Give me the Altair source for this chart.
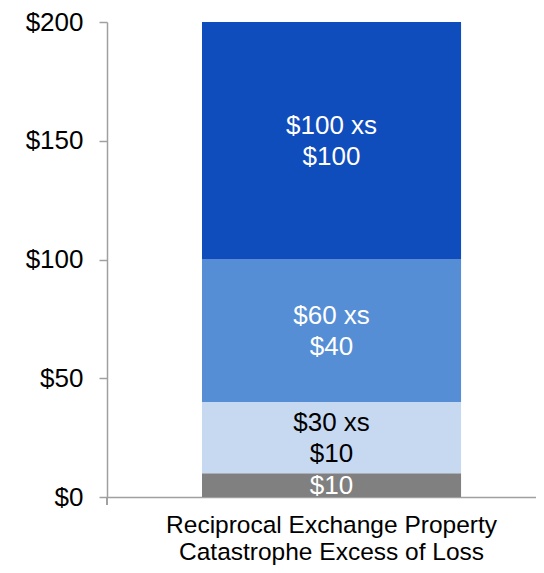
import altair as alt
import pandas as pd

# ---- data ----
program = "Reciprocal Exchange Property|Catastrophe Excess of Loss"
layer_names = ["Retention", "Layer 1", "Layer 2", "Layer 3"]
attachments = [0, 10, 40, 100]
limits = [10, 30, 60, 100]
layer_labels = ["$10", "$30 xs\n$10", "$60 xs\n$40", "$100 xs\n$100"]
y_ticks = [0, 50, 100, 150, 200]

bar_colors = ["#808080", "#C6D9F1", "#558ED5", "#0F4CBC"]
text_colors = ["#FFFFFF", "#000000", "#FFFFFF", "#FFFFFF"]

df = pd.DataFrame({
    "program": [program] * len(layer_names),
    "layer": layer_names,
    "attach": attachments,
    "limit": limits,
    "label": layer_labels,
})

FONT = "Liberation Sans"
AXIS_GRAY = "#A0A0A0"

x_enc = alt.X(
    "program:N",
    title=None,
    scale=alt.Scale(paddingInner=0, paddingOuter=0.328, align=0.559),
    axis=alt.Axis(
        labelAngle=0,
        labelExpr="split(datum.label, '|')",
        labelFont=FONT,
        labelFontSize=24.5,
        labelColor="#000000",
        labelLineHeight=27,
        labelPadding=16,
        labelBaseline="top",
        labelLimit=0,
        ticks=False,
        domainColor=AXIS_GRAY,
        domainWidth=1.5,
    ),
)

base = alt.Chart(df).transform_calculate(
    top="datum.attach + datum.limit",
    mid="datum.attach + datum.limit / 2",
    nlines="length(split(datum.label, '\\n'))",
)

bars = base.mark_bar(stroke=None).encode(
    x=x_enc,
    y=alt.Y(
        "attach:Q",
        title=None,
        scale=alt.Scale(domain=[0, 200], nice=False),
        axis=alt.Axis(
            values=y_ticks,
            labelExpr="'$' + datum.value",
            labelFont=FONT,
            labelFontSize=26,
            labelColor="#000000",
            labelPadding=16,
            tickSize=8,
            tickColor=AXIS_GRAY,
            tickWidth=1.5,
            domainColor=AXIS_GRAY,
            domainWidth=1.5,
            grid=False,
        ),
    ),
    y2="top:Q",
    color=alt.Color("layer:N", scale=alt.Scale(domain=layer_names, range=bar_colors), legend=None),
)

text_color = alt.Color("layer:N", scale=alt.Scale(domain=layer_names, range=text_colors), legend=None)

labels_multi = base.transform_filter("datum.nlines > 1").mark_text(
    font=FONT, fontSize=26, lineBreak="\n", lineHeight=31, baseline="middle", align="center", dy=-15
).encode(
    x=alt.X("program:N"),
    y=alt.Y("mid:Q"),
    text="label:N",
    color=text_color,
)

labels_single = base.transform_filter("datum.nlines == 1").mark_text(
    font=FONT, fontSize=26, baseline="middle", align="center", dy=1
).encode(
    x=alt.X("program:N"),
    y=alt.Y("mid:Q"),
    text="label:N",
    color=text_color,
)

corner_tick = alt.Chart(df).mark_rule(color=AXIS_GRAY, strokeWidth=1.5).encode(
    x=alt.value(0), y=alt.value(475), y2=alt.value(483)
)

chart = (
    alt.layer(bars, labels_multi, labels_single, corner_tick)
    .resolve_scale(color="independent")
    .properties(
        width=429,
        height=475,
        autosize=alt.AutoSizeParams(type="none"),
        padding={"left": 99, "top": 14, "right": 0, "bottom": 68},
    )
    .configure_view(stroke=None)
)

chart.save("out.html", embed_options={"renderer": "svg", "actions": False})
